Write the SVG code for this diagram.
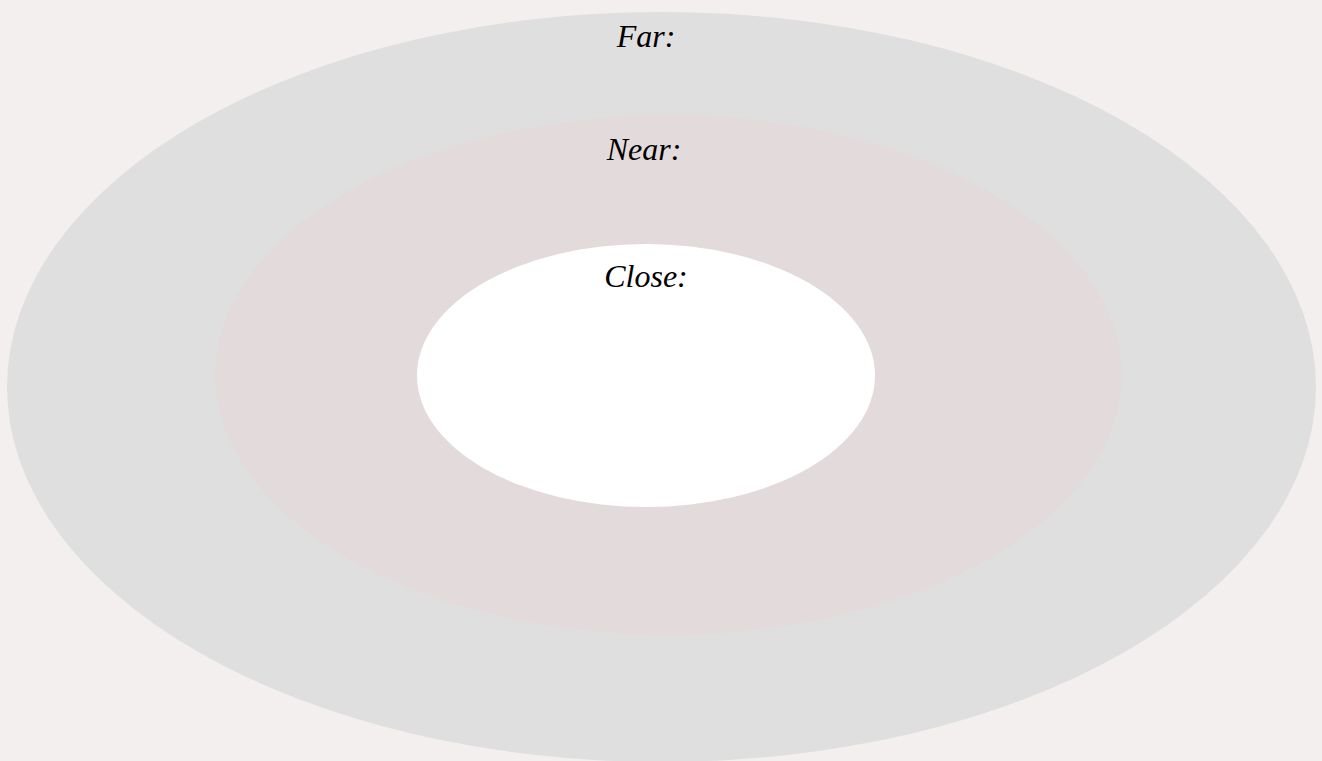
<svg xmlns="http://www.w3.org/2000/svg" width="1322" height="761" viewBox="0 0 1322 761">
<style>
.lbl{font-family:"Liberation Serif",serif;font-style:italic;font-size:32px;fill:#000;text-anchor:middle}
</style>
<rect width="1322" height="761" fill="#f3efee"/>
<g id="far">
<ellipse cx="661.5" cy="387" rx="654.5" ry="375" fill="#dfdfdf"/>
<text class="lbl" x="646" y="47">Far:</text>
</g>
<g id="near">
<ellipse cx="668.5" cy="375" rx="453.5" ry="260" fill="#e3dbdb"/>
<text class="lbl" x="644" y="160">Near:</text>
</g>
<g id="close">
<ellipse cx="646" cy="375.5" rx="229" ry="131.5" fill="#ffffff"/>
<text class="lbl" x="646" y="287">Close:</text>
</g>
<g id="connectors"/>
</svg>
